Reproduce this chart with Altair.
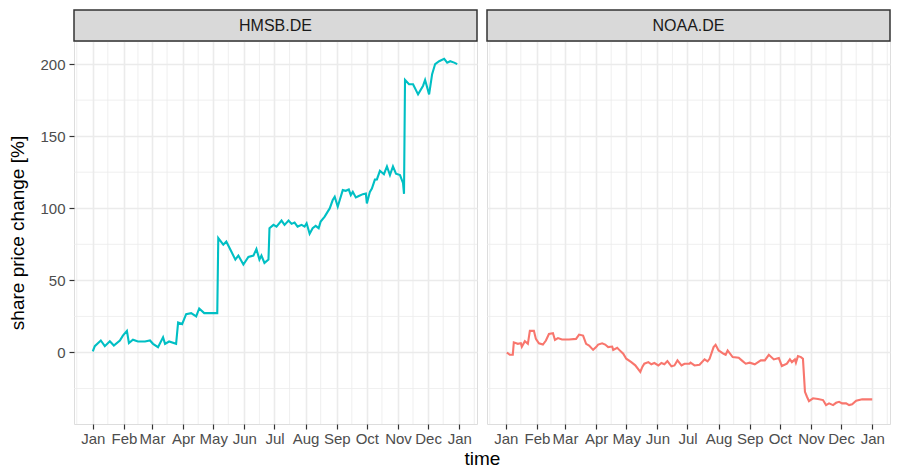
import altair as alt
import pandas as pd

FONT = "Liberation Sans"

tickers = ["HMSB.DE", "NOAA.DE"]
colors = ["#00BFC4", "#F8766D"]
start_date = "2021-01-01"

# day offset from 1 Jan, share price change [%]
hmsb_day = [0, 2, 8, 12, 17, 21, 27, 30, 34, 36, 40, 45, 52, 57, 60, 65, 70, 72, 76, 83,
            85, 89, 93, 98, 103, 106, 111, 119, 124, 125, 130, 133, 138, 142, 145, 150, 155,
            160, 163, 166, 168, 171, 175, 176, 180, 183, 188, 191, 195, 198, 201, 204, 208,
            211, 213, 216, 219, 222, 225, 227, 231, 234, 236, 239, 241, 244, 246, 249, 252,
            255, 257, 259, 262, 265, 269, 272, 273, 276, 278, 281, 283, 286, 290, 293, 296,
            299, 302, 306, 309, 310, 311, 315, 319, 324, 329, 331, 335, 338, 341, 345, 350,
            353, 356, 360, 363]
hmsb_val = [0.7, 4.4, 8.3, 4.4, 7.8, 4.8, 8.3, 11.7, 15.0, 6.6, 8.9, 7.6, 7.6, 8.3, 6.0, 3.7,
            10.5, 6.0, 7.6, 6.0, 20.8, 19.7, 26.6, 27.3, 25.0, 30.5, 27.3, 27.3, 27.3, 79.3,
            74.8, 77.0, 70.0, 64.4, 67.2, 61.0, 66.2, 67.2, 71.7, 64.4, 67.2, 62.1, 64.4, 86.2,
            88.5, 87.3, 91.5, 88.5, 91.5, 89.2, 90.1, 87.3, 88.5, 87.3, 89.6, 82.3, 86.2, 87.8,
            86.2, 90.8, 94.2, 97.7, 99.9, 105.7, 108.0, 101.1, 105.7, 112.6, 112.1, 113.0,
            109.1, 111.4, 107.5, 108.5, 109.8, 110.2, 103.4, 111.4, 113.7, 119.9, 120.0, 126.0,
            123.6, 129.0, 123.0, 129.0, 124.0, 123.0, 117.6, 110.0, 189.0, 186.0, 186.0, 179.0,
            185.0, 189.0, 179.0, 193.0, 200.0, 202.0, 203.6, 201.0, 202.0, 201.0, 200.0]

noaa_day = [1, 4, 7, 8, 12, 15, 16, 19, 22, 24, 28, 30, 33, 37, 40, 43, 47, 49, 52, 56, 63,
            70, 73, 77, 80, 83, 87, 90, 92, 96, 99, 102, 106, 107, 111, 113, 117, 120, 125,
            129, 134, 136, 138, 142, 145, 148, 152, 155, 158, 161, 165, 168, 171, 175, 178,
            183, 184, 188, 193, 198, 201, 203, 207, 209, 212, 217, 219, 221, 226, 232, 235,
            239, 243, 248, 254, 258, 262, 267, 272, 275, 280, 283, 285, 288, 289, 291, 294,
            296, 298, 300, 302, 306, 311, 316, 319, 322, 326, 329, 332, 335, 339, 342, 345,
            349, 355, 365]
noaa_val = [0.0, -1.6, -1.6, 7.0, 6.0, 6.4, 4.0, 7.8, 6.0, 15.0, 15.0, 9.4, 6.4, 5.5, 8.3,
            12.8, 13.3, 8.7, 10.0, 9.0, 9.0, 9.4, 12.4, 11.7, 6.0, 4.8, 1.8, 3.7, 5.5, 6.4, 5.5,
            3.7, 4.1, 1.8, 3.2, 1.8, -0.9, -4.3, -6.7, -8.9, -13.5, -10.0, -7.8, -6.7, -8.2,
            -7.3, -9.0, -7.3, -8.2, -6.0, -9.6, -9.0, -5.5, -9.0, -7.8, -7.8, -7.1, -9.0, -8.5,
            -4.8, -6.2, -4.4, 3.7, 5.3, 1.4, -0.9, -1.6, 1.4, -3.2, -3.7, -5.5, -7.8, -7.1,
            -8.2, -5.5, -5.5, -1.6, -4.8, -3.9, -9.4, -7.8, -4.8, -6.7, -4.8, -7.1, -2.5, -3.2,
            -4.4, -27.3, -30.7, -33.7, -31.8, -32.3, -33.0, -36.5, -35.3, -36.5, -34.9, -34.2,
            -35.3, -35.3, -36.5, -36.0, -33.5, -32.5, -32.5]

month_ticks = [(2021, m) for m in range(1, 13)] + [(2022, 1)]
minor_x = ["2020-12-16", "2021-01-16", "2021-02-15", "2021-03-16", "2021-04-16",
           "2021-05-16", "2021-06-16", "2021-07-16", "2021-08-16", "2021-09-16",
           "2021-10-16", "2021-11-16", "2021-12-16", "2022-01-16"]
major_y = [0, 50, 100, 150, 200]
minor_y = [-25, 25, 75, 125, 175]

W, H, STRIP_H, SPACING = 403, 383, 31, 10

x_dom = [int(pd.Timestamp("2020-12-13 07:12", tz="UTC").value // 10**6),
         int(pd.Timestamp("2022-01-18 16:48", tz="UTC").value // 10**6)]
y_dom = [-49.6, 216]


def to_dates(days):
    base = pd.Timestamp(start_date)
    return [(base + pd.Timedelta(days=d)).strftime("%Y-%m-%d") for d in days]


series = {
    "HMSB.DE": (hmsb_day, hmsb_val),
    "NOAA.DE": (noaa_day, noaa_val),
}

minor_x_df = pd.DataFrame({"date": minor_x})
minor_y_df = pd.DataFrame({"value": minor_y})


def panel(ticker, color, first):
    days, vals = series[ticker]
    df = pd.DataFrame({"date": to_dates(days), "value": vals})
    x_axis = alt.Axis(
        values=[alt.DateTime(year=y, month=m, date=1, utc=True) for y, m in month_ticks],
        labelExpr="utcFormat(datum.value, '%b')",
        grid=True, gridColor="#EBEBEB", gridWidth=1.6,
        domain=False, tickColor="#333333", tickSize=5, tickWidth=1.2,
        labelColor="#4D4D4D", labelFontSize=15, labelFont=FONT, labelPadding=2,
        labelOverlap=False, labelFlush=False,
        title="time" if first else None,
        titleX=(2 * W + SPACING) / 2, titleFontSize=19, titleFont=FONT,
        titleFontWeight="normal", titleColor="#000000", titlePadding=3,
    )
    if first:
        y_axis = alt.Axis(
            values=major_y, grid=True, gridColor="#EBEBEB", gridWidth=1.6,
            domain=False, tickColor="#333333", tickSize=5, tickWidth=1.2,
            labelColor="#4D4D4D", labelFontSize=15, labelFont=FONT, labelPadding=4,
            title="share price change [%]", titleFontSize=19, titleFont=FONT,
            titleFontWeight="normal", titleColor="#000000", titlePadding=12,
        )
    else:
        y_axis = alt.Axis(
            values=major_y, grid=True, gridColor="#EBEBEB", gridWidth=1.6,
            domain=False, ticks=False, labels=False, title=None,
        )
    x_enc = alt.X("date:T", scale=alt.Scale(type="utc", domain=x_dom, nice=False), axis=x_axis)
    y_enc = alt.Y("value:Q", scale=alt.Scale(domain=y_dom, nice=False, zero=False), axis=y_axis)

    vminor = alt.Chart(minor_x_df).mark_rule(color="#EBEBEB", strokeWidth=0.8).encode(x=x_enc)
    hminor = alt.Chart(minor_y_df).mark_rule(color="#EBEBEB", strokeWidth=0.8).encode(y=y_enc)
    line = alt.Chart(df).mark_line(color=color, strokeWidth=2.1).encode(x=x_enc, y=y_enc)

    strip_df = pd.DataFrame({"label": [ticker]})
    strip = alt.Chart(strip_df).mark_rect(
        fill="#D9D9D9", stroke="#333333", strokeWidth=1.5).encode(
        x=alt.value(0), x2=alt.value(W), y=alt.value(-STRIP_H), y2=alt.value(0))
    strip_text = alt.Chart(strip_df).mark_text(
        font=FONT, fontSize=16, color="#1A1A1A", baseline="middle", align="center").encode(
        x=alt.value(W / 2), y=alt.value(-STRIP_H / 2), text="label:N")

    return alt.layer(vminor, hminor, line, strip, strip_text).properties(width=W, height=H)


left = panel(tickers[0], colors[0], True)
right = panel(tickers[1], colors[1], False)

chart = alt.hconcat(left, right, spacing=SPACING, bounds="flush").properties(
    padding={"left": 0, "top": 0, "right": 0, "bottom": 0}
).configure_view(
    stroke="#333333", strokeWidth=1.5
).configure(
    font=FONT, background="white"
)

chart.save("out.html", embed_options={"renderer": "svg", "actions": False})
